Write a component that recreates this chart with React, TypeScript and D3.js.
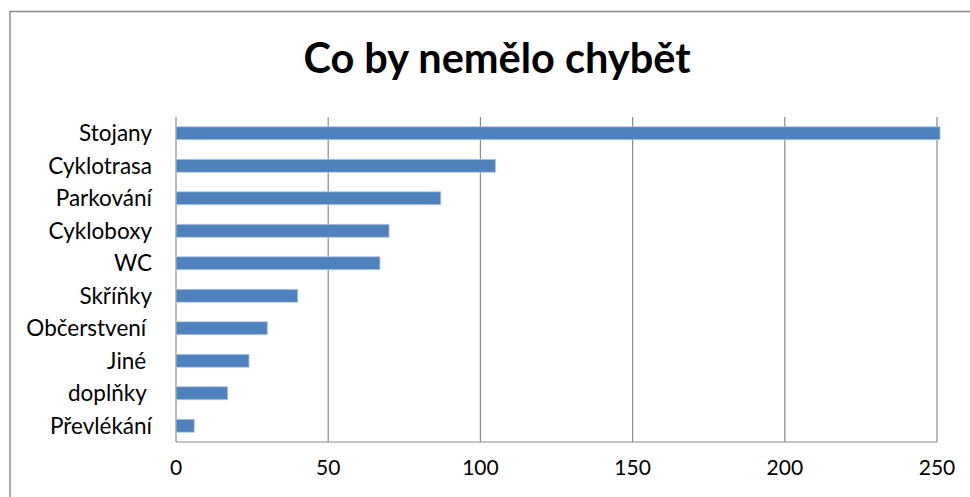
import * as d3 from "d3";
import { useEffect, useRef } from "react";

const categories = [
  "Stojany",
  "Cyklotrasa",
  "Parkování",
  "Cykloboxy",
  "WC",
  "Skříňky",
  "Občerstvení ",
  "Jiné ",
  "doplňky ",
  "Převlékání",
];
const values = [251, 105, 87, 70, 67, 40, 30, 24, 17, 6];
const xTicks = [0, 50, 100, 150, 200, 250];
const title = "Co by nemělo chybět";

const W = 970;
const H = 497;
const font = "Lato, 'Open Sans', sans-serif";

export default function App() {
  const ref = useRef<SVGSVGElement>(null);

  useEffect(() => {
    if (!ref.current) return;
    const svg = d3.select(ref.current);
    svg.selectAll("*").remove();

    const left = 176;
    const right = 937;
    const top = 117;
    const bottom = 442;

    const x = d3.scaleLinear().domain([0, 250]).range([left, right]);
    const y = d3
      .scaleBand<string>()
      .domain(categories)
      .range([top, bottom])
      .paddingInner(0.6)
      .paddingOuter(0.3);

    svg.append("rect").attr("width", W).attr("height", H).attr("fill", "#fff");

    // outer chart border
    svg
      .append("rect")
      .attr("x", 10)
      .attr("y", 11.5)
      .attr("width", 2000)
      .attr("height", 2000)
      .attr("fill", "none")
      .attr("stroke", "#8c8c8c")
      .attr("stroke-width", 1.5);

    svg
      .append("text")
      .attr("x", 497)
      .attr("y", 73)
      .attr("text-anchor", "middle")
      .attr("font-family", font)
      .attr("font-weight", "bold")
      .attr("font-size", 41.5)
      .attr("fill", "#000")
      .text(title);

    // gridlines
    svg
      .selectAll("line.grid")
      .data(xTicks)
      .enter()
      .append("line")
      .attr("class", "grid")
      .attr("x1", (d) => x(d))
      .attr("x2", (d) => x(d))
      .attr("y1", top)
      .attr("y2", bottom)
      .attr("stroke", "#8a8a8a")
      .attr("stroke-width", 1.2);

    svg
      .append("line")
      .attr("x1", left)
      .attr("x2", right)
      .attr("y1", bottom)
      .attr("y2", bottom)
      .attr("stroke", "#8a8a8a")
      .attr("stroke-width", 1.2);

    svg
      .selectAll("rect.bar")
      .data(values)
      .enter()
      .append("rect")
      .attr("class", "bar")
      .attr("x", x(0))
      .attr("y", (_, i) => y(categories[i])!)
      .attr("width", (d) => x(d) - x(0))
      .attr("height", y.bandwidth())
      .attr("fill", "#4f81bd")
      .attr("stroke", "#b9cde5")
      .attr("stroke-width", 0.8);

    svg
      .selectAll("text.cat")
      .data(categories)
      .enter()
      .append("text")
      .attr("class", "cat")
      .attr("x", 152)
      .attr("y", (d) => y(d)! + y.bandwidth() / 2)
      .attr("dy", "0.36em")
      .attr("text-anchor", "end")
      .attr("font-family", font)
      .attr("font-size", 22.5)
      .attr("fill", "#000")
      .style("white-space", "pre")
      .text((d) => d);

    svg
      .selectAll("text.tick")
      .data(xTicks)
      .enter()
      .append("text")
      .attr("class", "tick")
      .attr("x", (d) => x(d))
      .attr("y", 467)
      .attr("dy", "0.36em")
      .attr("text-anchor", "middle")
      .attr("font-family", font)
      .attr("font-size", 21)
      .attr("fill", "#000")
      .text((d) => d);
  }, []);

  return (
    <div style={{ position: "absolute", left: 0, top: 0 }}>
      <svg ref={ref} width={W} height={H} style={{ display: "block" }} />
    </div>
  );
}
